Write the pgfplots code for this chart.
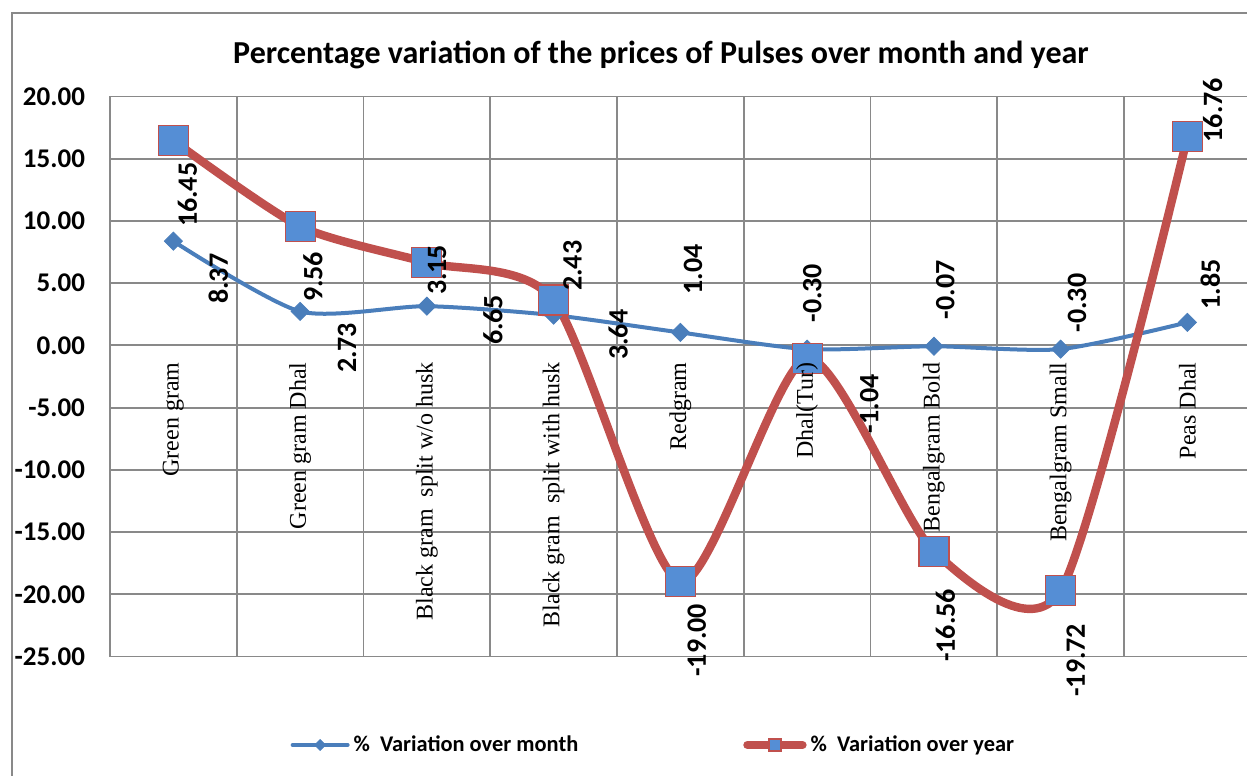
\documentclass[border=0pt]{standalone}
\usepackage{fontspec}
\setmainfont{Carlito}
\newfontfamily\timesf{Liberation Serif}
\usepackage{pgfplots}
\pgfplotsset{compat=1.18}

\definecolor{gridgray}{RGB}{137,137,137}
\definecolor{monthblue}{RGB}{74,126,187}
\definecolor{yearred}{RGB}{192,80,77}
\definecolor{markblue}{RGB}{85,142,213}

\newcommand{\lab}{\bfseries\fontsize{14}{16}\selectfont}
\newcommand{\cat}{\timesf\fontsize{12}{14}\selectfont}

\begin{document}
\begin{tikzpicture}
\useasboundingbox (0,0) rectangle (623.5pt,388pt);
% outer chart border
\draw[gridgray, line width=1pt] (6pt,0pt) -- (6pt,381.5pt) -- (640pt,381.5pt);

\begin{axis}[
    at={(55pt,59.75pt)}, anchor=south west,
    scale only axis,
    width=570.4pt, height=280pt,
    xmin=-0.5, xmax=8.5,
    ymin=-25, ymax=20,
    xtick={-0.5,0.5,1.5,2.5,3.5,4.5,5.5,6.5,7.5,8.5},
    xticklabels={},
    ytick={-25,-20,-15,-10,-5,0,5,10,15,20},
    yticklabels={-25.00,-20.00,-15.00,-10.00,-5.00,0.00,5.00,10.00,15.00,20.00},
    yticklabel style={font=\bfseries\fontsize{13.5}{15}\selectfont},
    yticklabel shift=9pt,
    tick style={draw=none},
    xmajorgrids, ymajorgrids,
    grid style={draw=gridgray, line width=0.9pt},
    axis line style={draw=gridgray, line width=0.9pt},
    clip=false,
    title={Percentage variation of the prices of Pulses over month and year},
    title style={font=\bfseries\fontsize{16}{19}\selectfont, at={(0.483,1.074)}, anchor=center, yshift=-6pt},
    legend columns=2,
    legend cell align=left,
    legend style={at={(0.158,-0.158)}, anchor=west, draw=none, fill=none, inner sep=0pt,
        font=\bfseries\fontsize{11.2}{13}\selectfont,
        /tikz/every even column/.append style={column sep=80.5pt}},
    legend image code/.code={\draw[mark repeat=2,mark phase=2,#1] plot coordinates {(0pt,0pt)(13.75pt,0pt)(27.5pt,0pt)};},
]

\addplot[smooth, tension=0.42, color=monthblue, line width=2pt, line cap=round,
    mark=square*, mark size=3.2pt, mark options={rotate=45, fill=monthblue, draw=monthblue, line width=0.4pt},
    legend image post style={mark size=1.9pt}]
    coordinates {
    (0,8.37)(1,2.73)(2,3.15)(3,2.43)(4,1.04)(5,-0.30)(6,-0.07)(7,-0.30)(8,1.85)
    };
\addlegendentry{\% \ Variation over month}

\addplot[smooth, tension=0.42, color=yearred, line width=4.2pt, line cap=round,
    mark=square*, mark size=7.5pt, mark options={fill=markblue, draw=yearred, line width=0.6pt},
    legend image post style={mark size=3pt}]
    coordinates {
    (0,16.45)(1,9.56)(2,6.65)(3,3.64)(4,-19.00)(5,-1.04)(6,-16.56)(7,-19.72)(8,16.76)
    };
\addlegendentry{\% \ Variation over year}

% anchor points for the texts, drawn on top after the axis
\coordinate (k0) at (axis cs:0,-0.8);
\coordinate (k1) at (axis cs:1,-0.8);
\coordinate (k2) at (axis cs:2,-0.8);
\coordinate (k3) at (axis cs:3,-0.8);
\coordinate (k4) at (axis cs:4,-0.8);
\coordinate (k5) at (axis cs:5,-0.8);
\coordinate (k6) at (axis cs:6,-0.8);
\coordinate (k7) at (axis cs:7,-0.8);
\coordinate (k8) at (axis cs:8,-0.8);

\coordinate (m0) at (axis cs:0.355,5.35);
\coordinate (m1) at (axis cs:1.37,-0.2);
\coordinate (m2) at (axis cs:2.08,6.07);
\coordinate (m3) at (axis cs:3.15,6.4);
\coordinate (m4) at (axis cs:4.10,6.1);
\coordinate (m5) at (axis cs:5.04,4.2);
\coordinate (m6) at (axis cs:6.09,4.46);
\coordinate (m7) at (axis cs:7.13,3.4);
\coordinate (m8) at (axis cs:8.18,4.9);

\coordinate (y0) at (axis cs:0.11,12.1);
\coordinate (y1) at (axis cs:1.10,5.5);
\coordinate (y2) at (axis cs:2.52,2.05);
\coordinate (y3) at (axis cs:3.51,0.85);
\coordinate (y4) at (axis cs:4.13,-23.7);
\coordinate (y5) at (axis cs:5.49,-4.7);
\coordinate (y6) at (axis cs:6.09,-22.5);
\coordinate (y7) at (axis cs:7.12,-25.3);
\coordinate (y8) at (axis cs:8.2,18.9);
\end{axis}

% category labels
\node[rotate=90, anchor=east, font=\cat] at (k0) {Green gram};
\node[rotate=90, anchor=east, font=\cat] at (k1) {Green gram Dhal};
\node[rotate=90, anchor=east, font=\cat] at (k2) {Black gram\ \ split w/o husk};
\node[rotate=90, anchor=east, font=\cat] at (k3) {Black gram\ \ split with husk};
\node[rotate=90, anchor=east, font=\cat] at (k4) {Redgram};
\node[rotate=90, anchor=east, font=\cat] at (k5) {Dhal(Tur)};
\node[rotate=90, anchor=east, font=\cat] at (k6) {Bengalgram Bold};
\node[rotate=90, anchor=east, font=\cat] at (k7) {Bengalgram Small};
\node[rotate=90, anchor=east, font=\cat] at (k8) {Peas Dhal};

% data labels, month
\node[rotate=90, font=\lab] at (m0) {8.37};
\node[rotate=90, font=\lab] at (m1) {2.73};
\node[rotate=90, font=\lab] at (m2) {3.15};
\node[rotate=90, font=\lab] at (m3) {2.43};
\node[rotate=90, font=\lab] at (m4) {1.04};
\node[rotate=90, font=\lab] at (m5) {-0.30};
\node[rotate=90, font=\lab] at (m6) {-0.07};
\node[rotate=90, font=\lab] at (m7) {-0.30};
\node[rotate=90, font=\lab] at (m8) {1.85};

% data labels, year
\node[rotate=90, font=\lab] at (y0) {16.45};
\node[rotate=90, font=\lab] at (y1) {9.56};
\node[rotate=90, font=\lab] at (y2) {6.65};
\node[rotate=90, font=\lab] at (y3) {3.64};
\node[rotate=90, font=\lab] at (y4) {-19.00};
\node[rotate=90, font=\lab] at (y5) {-1.04};
\node[rotate=90, font=\lab] at (y6) {-16.56};
\node[rotate=90, font=\lab] at (y7) {-19.72};
\node[rotate=90, font=\lab] at (y8) {16.76};
\end{tikzpicture}
\end{document}
